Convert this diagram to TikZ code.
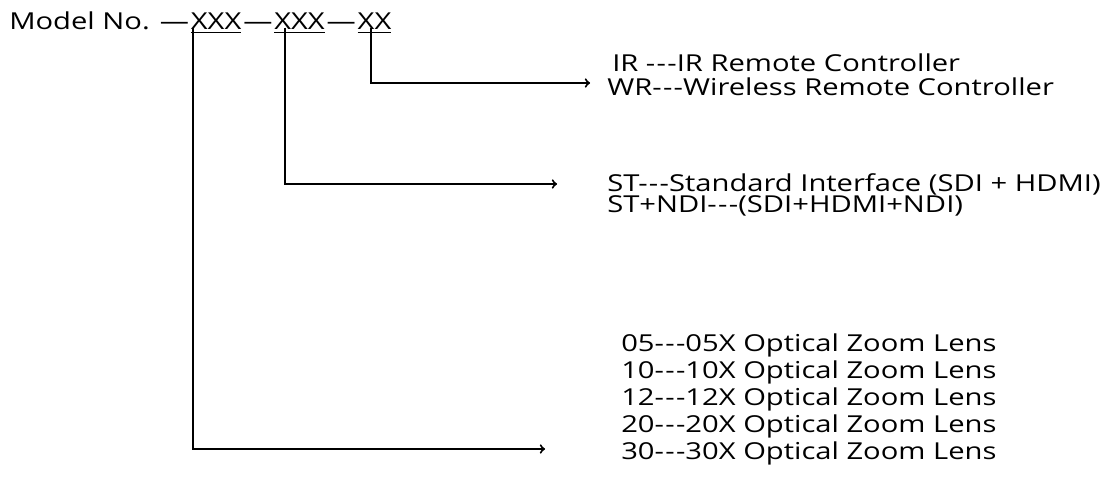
\documentclass[tikz,border=0pt]{standalone}
\usepackage{fontspec}
\setmainfont{Open Sans}[FakeStretch=1.25]
\usetikzlibrary{positioning}

\newcommand{\hy}{-\kern1pt-\kern1pt-}

\tikzset{
  txt/.style={anchor=base west, inner sep=0pt, font=\fontsize{17.5}{20}\selectfont},
  code/.style={txt, inner sep=0pt},
  link/.style={black, line width=1.5pt, ->}
}

\begin{document}
\begin{tikzpicture}[x=0.75pt, y=-0.75pt]
\useasboundingbox (0,0) rectangle (1112,488);

% model number line
\node[txt] (model) at (9,30) {Model No. —\kern1pt};
\node[code, base right=0pt of model] (c1) {\underline{XXX}};
\node[txt, base right=0pt of c1] (d2) {\kern1pt—\kern1pt};
\node[code, base right=0pt of d2] (c2) {\underline{XXX}};
\node[txt, base right=0pt of c2] (d3) {\kern1pt—\kern1pt};
\node[code, base right=0pt of d3] (c3) {\underline{XX}};

% remote controller
\node[txt] (ir) at (612,72) {IR \hy IR Remote Controller};
\node[txt] (wr) at (607,96) {WR\hy Wireless Remote Controller};

% interface
\node[txt] (st) at (607,192) {ST\hy Standard Interface (SDI + HDMI)};
\node[txt] (ndi) at (607,213) {ST+NDI\hy (SDI+HDMI+NDI)};

% lens
\node[txt] (l1) at (621,351) {05\hy 05X Optical Zoom Lens};
\node[txt] (l2) at (621,378) {10\hy 10X Optical Zoom Lens};
\node[txt] (l3) at (621,405) {12\hy 12X Optical Zoom Lens};
\node[txt] (l4) at (621,432) {20\hy 20X Optical Zoom Lens};
\node[txt] (l5) at (621,459) {30\hy 30X Optical Zoom Lens};

\coordinate (e1) at (590,83);
\coordinate (e2) at (557,184);
\coordinate (e3) at (545,449);

\draw[link] ([xshift=10, yshift=4]c3.south west) |- (e1);
\draw[link] ([xshift=8, yshift=4]c2.south west) |- (e2);
\draw[link] ([xshift=2, yshift=4]c1.south west) |- (e3);

\end{tikzpicture}
\end{document}
